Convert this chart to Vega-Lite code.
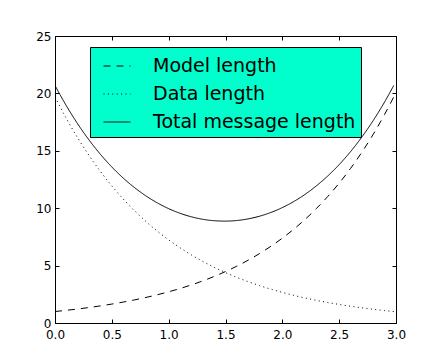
{
  "$schema": "https://vega.github.io/schema/vega-lite/v6.json",
  "width": 341,
  "height": 287,
  "autosize": {"type": "none"},
  "padding": {"left": 55, "top": 36, "right": 44, "bottom": 37},
  "background": "white",
  "config": {
    "font": "DejaVu Sans",
    "view": {"stroke": "black", "strokeWidth": 1},
    "axis": {"grid": false, "domain": false, "tickColor": "black", "tickSize": -4, "tickWidth": 1, "labelColor": "black", "labelFontSize": 12, "labelFont": "DejaVu Sans", "labelFlush": false, "labelOverlap": false, "title": null},
    "legend": {"orient": "none", "legendX": 35, "legendY": 11, "fillColor": "#00FFCC", "strokeColor": "black", "padding": 5, "symbolOffset": 8, "symbolType": "stroke", "symbolSize": 729, "symbolStrokeWidth": 1, "symbolStrokeColor": "black", "labelFontSize": 19, "labelFont": "DejaVu Sans", "labelColor": "black", "labelOffset": 22, "labelLimit": 400, "rowPadding": 4, "title": null}
  },
  "data": {"values": [
    {"x": 0.0, "model": 1.000, "data": 19.688, "total": 20.688},
    {"x": 0.1, "model": 1.105, "data": 17.814, "total": 18.919},
    {"x": 0.2, "model": 1.221, "data": 16.119, "total": 17.340},
    {"x": 0.3, "model": 1.350, "data": 14.585, "total": 15.935},
    {"x": 0.4, "model": 1.492, "data": 13.197, "total": 14.689},
    {"x": 0.5, "model": 1.649, "data": 11.941, "total": 13.590},
    {"x": 0.6, "model": 1.822, "data": 10.805, "total": 12.627},
    {"x": 0.7, "model": 2.014, "data": 9.777, "total": 11.791},
    {"x": 0.8, "model": 2.226, "data": 8.846, "total": 11.072},
    {"x": 0.9, "model": 2.460, "data": 8.004, "total": 10.464},
    {"x": 1.0, "model": 2.718, "data": 7.243, "total": 9.961},
    {"x": 1.1, "model": 3.004, "data": 6.554, "total": 9.558},
    {"x": 1.2, "model": 3.320, "data": 5.930, "total": 9.250},
    {"x": 1.3, "model": 3.669, "data": 5.366, "total": 9.035},
    {"x": 1.4, "model": 4.055, "data": 4.855, "total": 8.910},
    {"x": 1.5, "model": 4.482, "data": 4.393, "total": 8.875},
    {"x": 1.6, "model": 4.953, "data": 3.975, "total": 8.928},
    {"x": 1.7, "model": 5.474, "data": 3.597, "total": 9.071},
    {"x": 1.8, "model": 6.050, "data": 3.254, "total": 9.304},
    {"x": 1.9, "model": 6.686, "data": 2.945, "total": 9.631},
    {"x": 2.0, "model": 7.389, "data": 2.664, "total": 10.053},
    {"x": 2.1, "model": 8.166, "data": 2.411, "total": 10.577},
    {"x": 2.2, "model": 9.025, "data": 2.181, "total": 11.206},
    {"x": 2.3, "model": 9.974, "data": 1.974, "total": 11.948},
    {"x": 2.4, "model": 11.023, "data": 1.786, "total": 12.809},
    {"x": 2.5, "model": 12.182, "data": 1.616, "total": 13.798},
    {"x": 2.6, "model": 13.464, "data": 1.462, "total": 14.926},
    {"x": 2.7, "model": 14.880, "data": 1.323, "total": 16.203},
    {"x": 2.8, "model": 16.445, "data": 1.197, "total": 17.642},
    {"x": 2.9, "model": 18.174, "data": 1.083, "total": 19.257},
    {"x": 2.98, "model": 19.688, "data": 1.000, "total": 20.688}
  ]},
  "layer": [
    {
      "transform": [
        {"fold": ["model", "data", "total"], "as": ["key", "value"]},
        {"lookup": "key", "from": {"data": {"values": [
          {"key": "model", "label": "Model length"},
          {"key": "data", "label": "Data length"},
          {"key": "total", "label": "Total message length"}
        ]}, "key": "key", "fields": ["label"]}}
      ],
      "mark": {"type": "line", "color": "black", "strokeWidth": 1, "interpolate": "monotone", "clip": true},
      "encoding": {
        "x": {"field": "x", "type": "quantitative", "scale": {"domain": [0, 3], "nice": false}, "axis": {"orient": "bottom", "values": [0, 0.5, 1, 1.5, 2, 2.5, 3], "format": ".1f", "labelPadding": 10}},
        "y": {"field": "value", "type": "quantitative", "scale": {"domain": [0, 25], "nice": false}, "axis": {"orient": "left", "values": [0, 5, 10, 15, 20, 25], "labelPadding": 8}},
        "strokeDash": {"field": "label", "type": "nominal", "scale": {"domain": ["Model length", "Data length", "Total message length"], "range": [[7, 6], [1, 3.4], [1, 0]]}},
        "detail": {"field": "key"}
      }
    },
    {
      "mark": {"type": "line", "strokeOpacity": 0, "color": "black"},
      "encoding": {
        "x": {"field": "x", "type": "quantitative", "axis": {"orient": "top", "values": [0, 0.5, 1, 1.5, 2, 2.5, 3], "labels": false}},
        "y": {"field": "total", "type": "quantitative", "axis": {"orient": "right", "values": [0, 5, 10, 15, 20, 25], "labels": false}}
      }
    }
  ],
  "resolve": {"axis": {"x": "independent", "y": "independent"}}
}
